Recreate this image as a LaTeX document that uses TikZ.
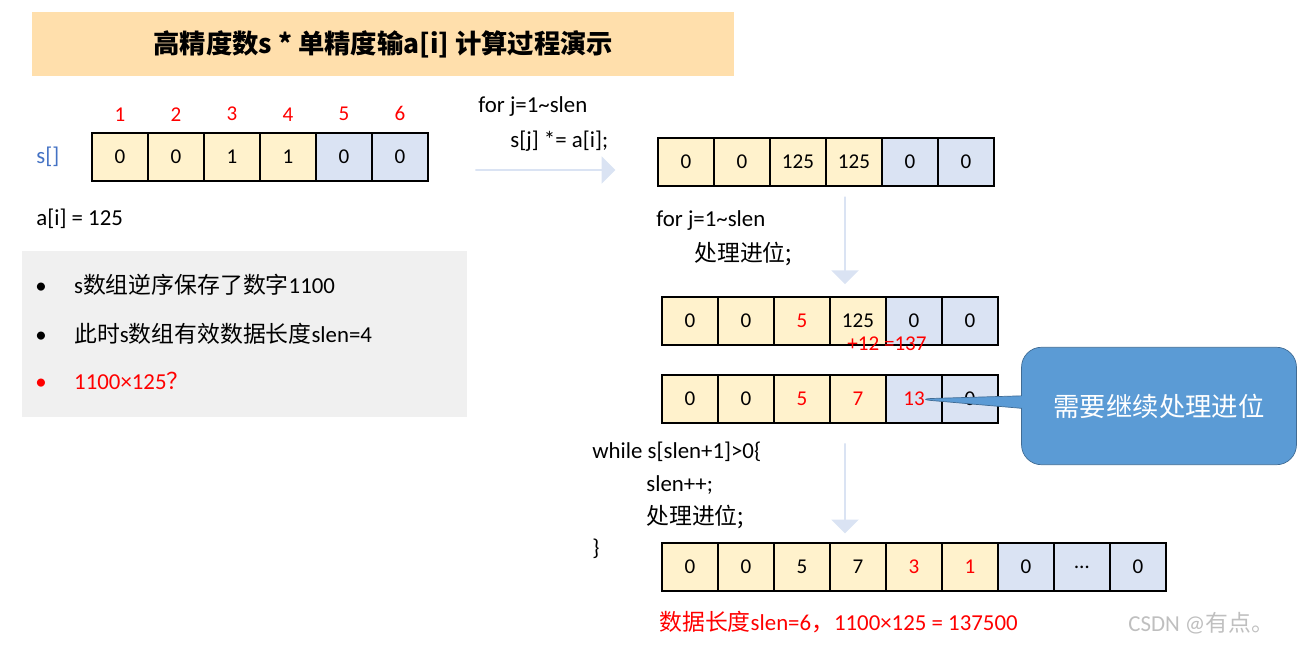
\documentclass[tikz,border=0pt]{standalone}
\usepackage{fontspec}
\setmainfont{Carlito}
\newfontfamily\cjk{Noto Sans CJK SC}
\usetikzlibrary{shapes.arrows,shapes.callouts}
\definecolor{cellY}{HTML}{FFF2CC}
\definecolor{cellB}{HTML}{DAE3F3}
\definecolor{arr}{HTML}{DAE3F3}
\definecolor{callout}{HTML}{5B9BD5}
\definecolor{sblue}{HTML}{4472C4}
\tikzset{cell/.style={draw=black,thick,minimum width=1.12cm,minimum height=0.96cm,inner sep=0pt,font=\fontsize{12}{12}\selectfont},
         ycell/.style={cell,fill=cellY},
         bcell/.style={cell,fill=cellB},
         txt/.style={anchor=west,inner sep=0pt,font=\fontsize{13}{15}\selectfont},
         bigarrow/.style={single arrow,fill=arr,draw=none,minimum height=#1,single arrow head extend=0.1cm,minimum width=0.55cm,inner sep=0pt}}
\newcommand{\row}[4]{% name, x, y, list of style/text
  \foreach \st/\tx [count=\i] in {#4}
    \node[\st] (#1\i) at ({#2+(\i-1)*56+28},#3) {\tx};}
\begin{document}
\begin{tikzpicture}[x=0.02cm,y=-0.02cm]
\useasboundingbox (0,0) rectangle (1303,645);
% title and notes
\node[fill=cellY!80!orange!90,minimum width=14.04cm,minimum height=1.28cm,anchor=north west,font=\fontsize{15}{15}\selectfont\bfseries] (title) at (32,12) {\cjk 高精度数s * 单精度输a[i] 计算过程演示};
\node[fill=black!6,minimum width=8.9cm,minimum height=3.32cm,anchor=north west] (note) at (22,251) {};
\node[txt] (n1) at (35,285) {•\hspace{0.55cm}s{\cjk 数组逆序保存了数字}1100};
\node[txt] (n2) at (35,334) {•\hspace{0.55cm}{\cjk 此时}s{\cjk 数组有效数据长度}slen=4};
\node[txt,red] (n3) at (35,381) {•\hspace{0.55cm}1100×125{\cjk ？}};
% s[]
\node[txt,text=sblue] (sl) at (36,157) {s[]};
\row{s}{92}{157}{ycell/0,ycell/0,ycell/1,ycell/1,bcell/0,bcell/0}
\foreach \i in {1,...,6}
  \node[red,font=\fontsize{12}{12}\selectfont,above=1mm] at (s\i.north) {\i};
\node[txt] (ai) at (36,219) {a[i] = 125};
% step 1
\node[txt] (c1) at (478,107) {for j=1\textasciitilde slen};
\node[txt] (c2) at (510,141) {s[j] *= a[i];};
\node[bigarrow=2.8cm] (ar1) at (545,170) {};
\row{b}{658}{162}{ycell/0,ycell/0,ycell/125,ycell/125,bcell/0,bcell/0}
% step 2
\node[txt] (c3) at (656,221) {for j=1\textasciitilde slen};
\node[txt] (c4) at (694,254) {\cjk 处理进位;};
\node[bigarrow=1.75cm,rotate=-90] (ar2) at (845,240) {};
\row{c}{662}{321}{ycell/0,ycell/0,ycell/{\textcolor{red}{5}},ycell/125,bcell/0,bcell/0}
\node[red,font=\fontsize{12}{12}\selectfont] (plus) at (887,344) {+12 =137};
\row{d}{662}{399}{ycell/0,ycell/0,ycell/{\textcolor{red}{5}},ycell/{\textcolor{red}{7}},bcell/{\textcolor{red}{13}},bcell/0}
\node[rectangle callout,rounded corners=0.4cm,fill=callout,draw=callout!70!black,minimum width=5.5cm,minimum height=2.35cm,text=white,font=\fontsize{15}{15}\selectfont\cjk,callout absolute pointer={(d5.center)}] (call) at (1159,406) {需要继续处理进位};
% step 3
\node[txt] (c5) at (592,452) {while s[slen+1]>0\{};
\node[txt] (c6) at (646,485) {slen++;};
\node[txt] (c7) at (646,517) {\cjk 处理进位;};
\node[txt] (c8) at (592,549) {\}};
\node[bigarrow=1.8cm,rotate=-90] (ar3) at (845,488) {};
\row{e}{662}{567}{ycell/0,ycell/0,ycell/5,ycell/7,ycell/{\textcolor{red}{3}},ycell/{\textcolor{red}{1}},bcell/0,bcell/{\ldots},bcell/0}
\node[txt,red] (res) at (659,622) {{\cjk 数据长度}slen=6{\cjk ，}1100×125 = 137500};
\node[txt,black!25] (wm) at (1128,623) {CSDN @{\cjk 有点。}};
\end{tikzpicture}
\end{document}
